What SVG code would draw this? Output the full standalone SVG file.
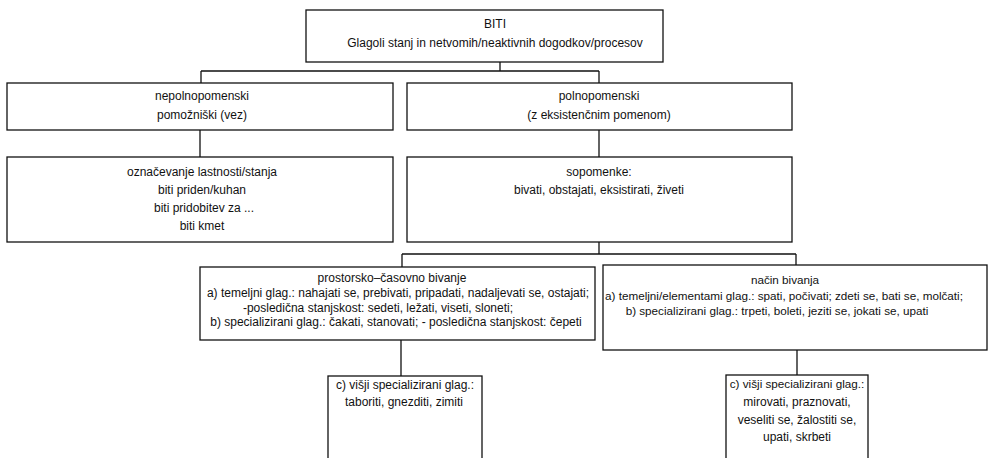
<svg xmlns="http://www.w3.org/2000/svg" width="988" height="458" viewBox="0 0 988 458">
<style>
.box{fill:#fff;stroke:#111;stroke-width:1.3}
.ln{fill:none;stroke:#111;stroke-width:1.3}
text{font-family:"Liberation Sans",Arial,sans-serif;font-size:12px;fill:#111;text-anchor:middle}
.sm{font-size:11.7px}
</style>
<rect width="988" height="458" fill="#fff"/>
<g id="connectors">
<path class="ln" d="M500 62V71M201 71H599M201 71V83M599 71V83"/>
<path class="ln" d="M200 130V157M599 130V157"/>
<path class="ln" d="M599 242V254M402 254H796M402 254V267M796 254V265"/>
<path class="ln" d="M401 340V376M797 350V375"/>
</g>
<g id="n_biti">
<rect class="box" x="306" y="10" width="357" height="52"/>
<text x="495" y="28">BITI</text>
<text x="495" y="47">Glagoli stanj in netvomih/neaktivnih dogodkov/procesov</text>
</g>
<g id="n_nepoln">
<rect class="box" x="7" y="83" width="386" height="47"/>
<text x="202" y="100">nepolnopomenski</text>
<text x="202" y="119">pomožniški (vez)</text>
</g>
<g id="n_poln">
<rect class="box" x="407" y="83" width="385" height="47"/>
<text x="599" y="100">polnopomenski</text>
<text x="599" y="119">(z eksistenčnim pomenom)</text>
</g>
<g id="n_oznac">
<rect class="box" x="7" y="157" width="386" height="85"/>
<text x="202" y="176">označevanje lastnosti/stanja</text>
<text x="202" y="194">biti priden/kuhan</text>
<text x="204" y="212">biti pridobitev za ...</text>
<text x="202" y="230">biti kmet</text>
</g>
<g id="n_sopom">
<rect class="box" x="407" y="157" width="385" height="85"/>
<text x="599" y="176">sopomenke:</text>
<text x="599" y="194">bivati, obstajati, eksistirati, živeti</text>
</g>
<g id="n_prostor">
<rect class="box" x="200" y="267" width="395" height="73"/>
<text x="392" y="282">prostorsko–časovno bivanje</text>
<text x="398" y="297">a) temeljni glag.: nahajati se, prebivati, pripadati, nadaljevati se, ostajati;</text>
<text x="378" y="312">-posledična stanjskost: sedeti, ležati, viseti, sloneti;</text>
<text x="396" y="326">b) specializirani glag.: čakati, stanovati; - posledična stanjskost: čepeti</text>
</g>
<g id="n_nacin">
<rect class="box" x="603" y="265" width="384" height="85"/>
<text class="sm" x="785" y="284">način bivanja</text>
<text class="sm" x="784" y="300">a) temeljni/elementami glag.: spati, počivati; zdeti se, bati se, molčati;</text>
<text class="sm" x="777" y="315">b) specializirani glag.: trpeti, boleti, jeziti se, jokati se, upati</text>
</g>
<g id="n_visji1">
<rect class="box" x="328" y="376" width="154" height="100"/>
<text x="405" y="389">c) višji specializirani glag.:</text>
<text x="404" y="406">taboriti, gnezditi, zimiti</text>
</g>
<g id="n_visji2">
<rect class="box" x="726" y="375" width="142" height="100"/>
<text class="sm" x="797" y="388">c) višji specializirani glag.:</text>
<text x="797" y="406">mirovati, praznovati,</text>
<text x="797" y="424">veseliti se, žalostiti se,</text>
<text x="797" y="441">upati, skrbeti</text>
</g>
</svg>
